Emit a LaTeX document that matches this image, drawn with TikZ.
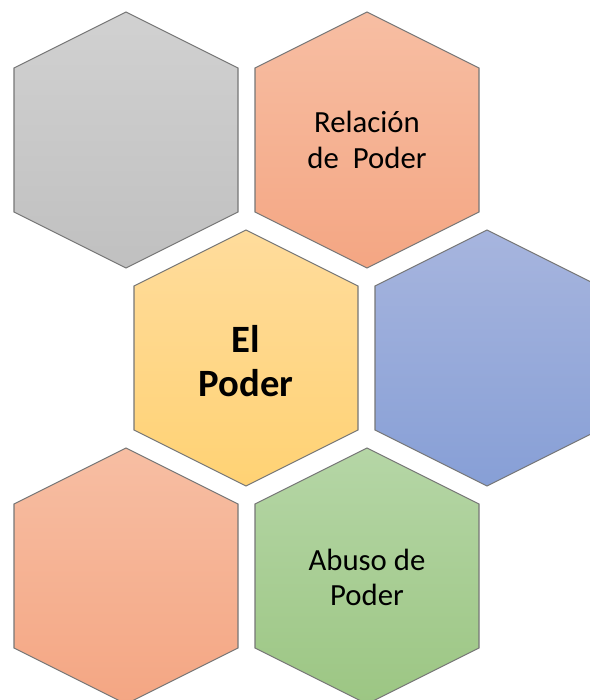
\documentclass[tikz,border=0pt]{standalone}
\usepackage{fontspec}
\setmainfont{Carlito}
\usepackage{tikz}
\usetikzlibrary{shapes,positioning,calc}
\definecolor{grayT}{HTML}{D1D1D1}
\definecolor{grayB}{HTML}{C0C0C0}
\definecolor{salmonT}{HTML}{F7BEA3}
\definecolor{salmonB}{HTML}{F4A683}
\definecolor{yellowT}{HTML}{FFDC9C}
\definecolor{yellowB}{HTML}{FFD274}
\definecolor{blueT}{HTML}{A7B5DE}
\definecolor{blueB}{HTML}{879FD6}
\definecolor{greenT}{HTML}{B5D6A6}
\definecolor{greenB}{HTML}{9CC683}
\definecolor{hexline}{HTML}{767676}
\newcommand{\hexcell}[3]{
  \path[hexstyle, top color=#2, bottom color=#3]
    ($(#1)+(0,128)$) -- ($(#1)+(112,72)$) -- ($(#1)+(112,-72)$) --
    ($(#1)+(0,-128)$) -- ($(#1)+(-112,-72)$) -- ($(#1)+(-112,72)$) -- cycle;
}
\tikzset{hexstyle/.style = {draw=hexline, line width=0.6pt},
         hextext/.style  = {align=center, font=\fontsize{17.5}{20}\selectfont},
         hexbold/.style  = {align=center, font=\bfseries\fontsize{22}{25}\selectfont}}

\begin{document}
\begin{tikzpicture}[x=0.02cm,y=0.02cm]
	\useasboundingbox (0,0) rectangle (589,700);
	\coordinate (gris) at (126,560);
	\coordinate (relacion) at (367,560);
	\coordinate (poder) at (246,342);
	\coordinate (azul) at (487,342);
	\coordinate (salmon) at (126,124);
	\coordinate (abuso) at (367,124);
	\hexcell{gris}{grayT}{grayB}
	\hexcell{relacion}{salmonT}{salmonB}
	\hexcell{poder}{yellowT}{yellowB}
	\hexcell{azul}{blueT}{blueB}
	\hexcell{salmon}{salmonT}{salmonB}
	\hexcell{abuso}{greenT}{greenB}
	\node[hextext] (relacionT) at (relacion) {Relación\\de\ \ Poder};
	\node[hexbold] (poderT) at ([yshift=-2]poder) {El\\Poder};
	\node[hextext] (abusoT) at ([yshift=-1]abuso) {Abuso de\\Poder};
\end{tikzpicture}
\end{document}
